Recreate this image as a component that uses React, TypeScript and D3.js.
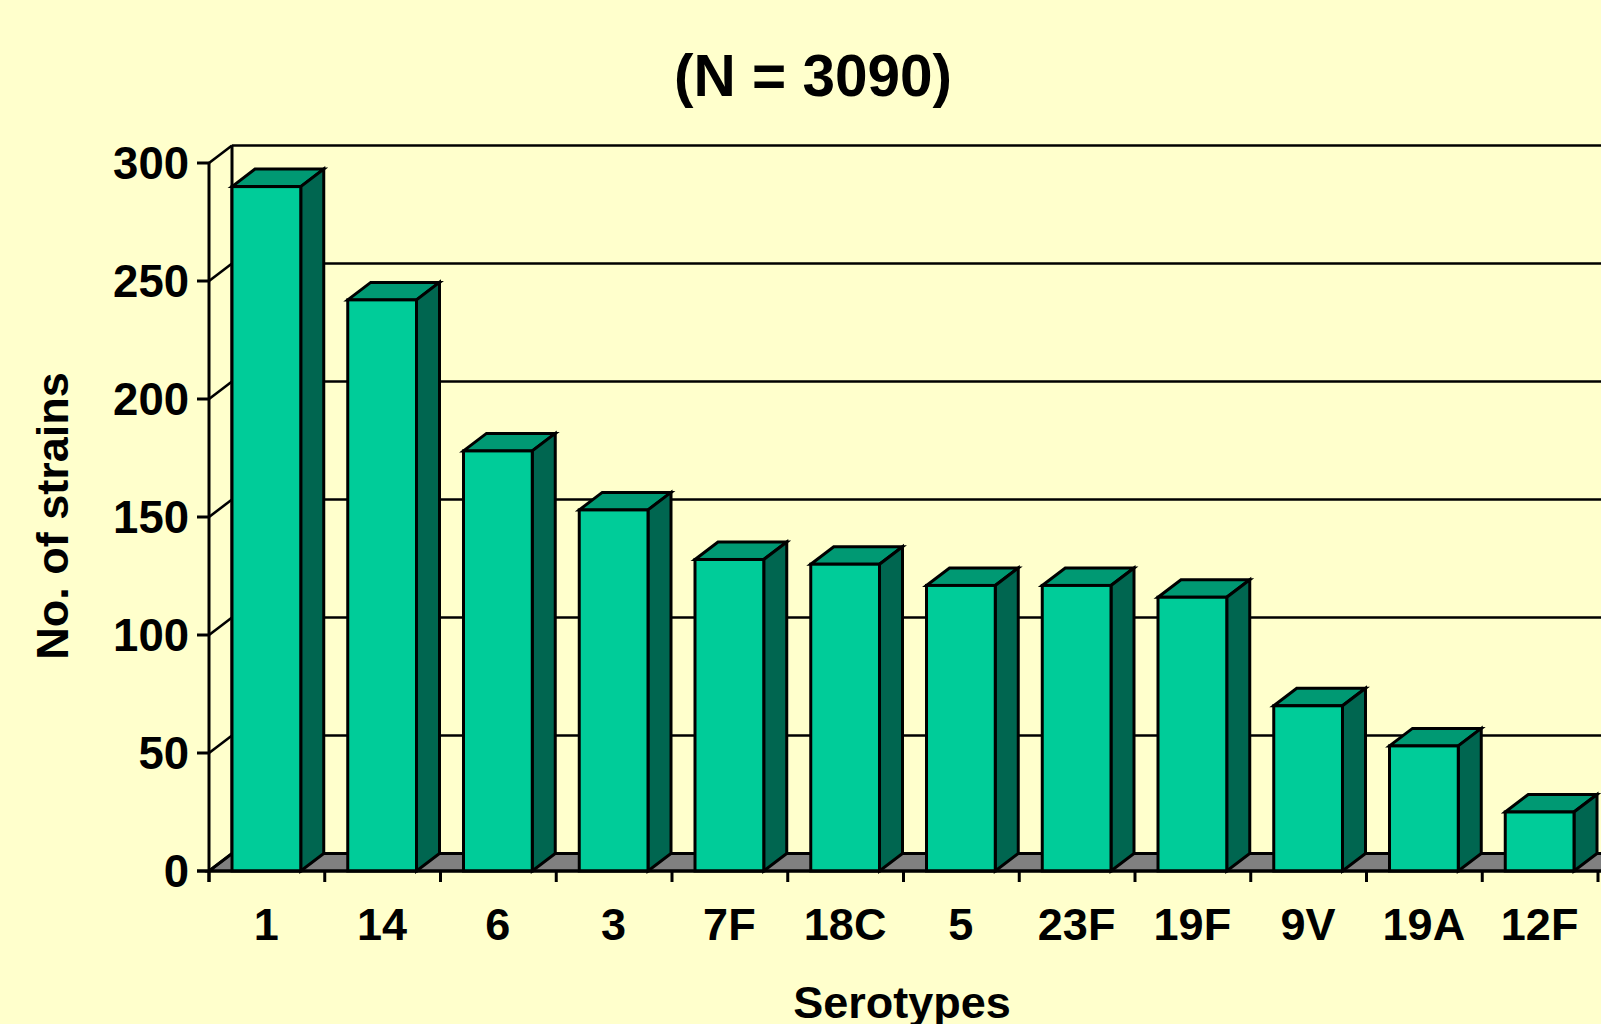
import React from "react";
import * as d3 from "d3";

const serotypes = ["1", "14", "6", "3", "7F", "18C", "5", "23F", "19F", "9V", "19A", "12F"];
const strainCounts = [290, 242, 178, 153, 132, 130, 121, 121, 116, 70, 53, 25];
const yTicks = [0, 50, 100, 150, 200, 250, 300];

const WIDTH = 1601;
const HEIGHT = 1024;
const FONT = "'Liberation Sans', Arial, sans-serif";
const INK = "#000000";
const DEPTH_X = 23;
const DEPTH_Y = 17.5;
const AXIS_X = 209;
const BAND = 115.75;
const INSET_LEFT = 23;
const INSET_RIGHT = 24;

const x = d3
  .scaleBand<string>()
  .domain(serotypes)
  .range([AXIS_X, AXIS_X + BAND * serotypes.length]);
const y = d3.scaleLinear().domain([0, 300]).range([871, 163]);

const pts = (p: [number, number][]) => p.map((q) => q.join(",")).join(" ");

export default function App() {
  const floorY = y(0);
  const left = AXIS_X + DEPTH_X;
  const tickEdges = [...serotypes.map((s) => x(s) as number), AXIS_X + BAND * serotypes.length];

  return (
    <svg
      width={WIDTH}
      height={HEIGHT}
      viewBox={`0 0 ${WIDTH} ${HEIGHT}`}
      style={{ position: "fixed", left: 0, top: 0, background: "#FFFFCC", display: "block" }}
      fontFamily={FONT}
      fontWeight="bold"
    >
      <text x={813} y={96} fontSize={58.5} textAnchor="middle" fill={INK}>
        (N = 3090)
      </text>

      {/* floor of the 3D plot box */}
      <polygon
        points={pts([
          [AXIS_X, floorY],
          [left, floorY - DEPTH_Y],
          [WIDTH + 30, floorY - DEPTH_Y],
          [WIDTH + 30, floorY],
        ])}
        fill="#808080"
        stroke={INK}
        strokeWidth={3}
      />

      {/* back wall gridlines, with their diagonal run onto the side wall */}
      {yTicks.map((t) => (
        <g key={t} stroke={INK} strokeWidth={2.6} fill="none">
          <line x1={left} x2={WIDTH + 30} y1={y(t) - DEPTH_Y} y2={y(t) - DEPTH_Y} />
          <line x1={AXIS_X} x2={left} y1={y(t)} y2={y(t) - DEPTH_Y} />
        </g>
      ))}
      <line x1={left} x2={left} y1={y(300) - DEPTH_Y} y2={floorY - DEPTH_Y} stroke={INK} strokeWidth={3} />

      {/* value axis */}
      <line x1={AXIS_X} x2={AXIS_X} y1={y(300)} y2={floorY + 11} stroke={INK} strokeWidth={3} />
      {yTicks.map((t) => (
        <g key={t}>
          <line x1={197} x2={AXIS_X} y1={y(t)} y2={y(t)} stroke={INK} strokeWidth={3} />
          <text x={189} y={y(t) + 16} fontSize={45.5} textAnchor="end" fill={INK}>
            {t}
          </text>
        </g>
      ))}

      {/* bars: top and side faces first, then the front */}
      {serotypes.map((s, i) => {
        const x0 = (x(s) as number) + INSET_LEFT;
        const x1 = (x(s) as number) + x.bandwidth() - INSET_RIGHT;
        const top = y(strainCounts[i]);
        return (
          <g key={s} stroke={INK} strokeWidth={3} strokeLinejoin="miter">
            <polygon
              points={pts([
                [x0, top],
                [x0 + DEPTH_X, top - DEPTH_Y],
                [x1 + DEPTH_X, top - DEPTH_Y],
                [x1, top],
              ])}
              fill="#009973"
            />
            <polygon
              points={pts([
                [x1, top],
                [x1 + DEPTH_X, top - DEPTH_Y],
                [x1 + DEPTH_X, floorY - DEPTH_Y],
                [x1, floorY],
              ])}
              fill="#006650"
            />
            <rect x={x0} y={top} width={x1 - x0} height={floorY - top} fill="#00CC99" />
          </g>
        );
      })}

      {/* category axis */}
      <line x1={197} x2={WIDTH + 30} y1={floorY} y2={floorY} stroke={INK} strokeWidth={3} />
      {tickEdges.map((e) => (
        <line key={e} x1={e} x2={e} y1={floorY} y2={floorY + 11} stroke={INK} strokeWidth={3} />
      ))}
      {serotypes.map((s) => (
        <text
          key={s}
          x={(x(s) as number) + x.bandwidth() / 2 - 0.5}
          y={940}
          fontSize={45}
          textAnchor="middle"
          fill={INK}
        >
          {s}
        </text>
      ))}

      <text x={902} y={1018} fontSize={45} textAnchor="middle" fill={INK}>
        Serotypes
      </text>
      <text
        transform="translate(68,516) rotate(-90)"
        fontSize={45}
        textAnchor="middle"
        fill={INK}
      >
        No. of strains
      </text>
    </svg>
  );
}
